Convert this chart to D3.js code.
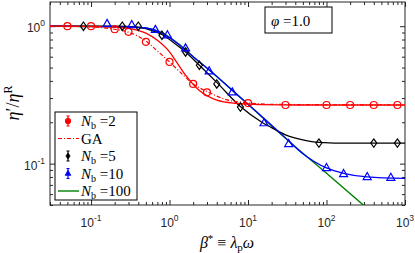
<!DOCTYPE html>
<html>
<head>
<script src="https://d3js.org/d3.v7.min.js"></script>
<style>
body { margin: 0; background: white; }
.tick text { font-family: "Liberation Sans", Arial, sans-serif; }
</style>
</head>
<body>
<script>
// data
var nb2X = [0.05, 0.1, 0.2, 0.3, 0.5, 1, 2, 3, 10, 30, 100, 200, 400, 800];
var nb2Y = [1.0, 1.0, 0.95, 0.91, 0.77, 0.55, 0.38, 0.33, 0.276, 0.267, 0.267, 0.267, 0.267, 0.267];

var fit2X = [0.03, 0.1, 0.2, 0.3, 0.5, 0.7, 1, 1.2, 1.6, 2.4, 4, 7, 15, 40, 1000];
var fit2Y = [1.0, 0.997, 0.985, 0.965, 0.89, 0.79, 0.65, 0.56, 0.44, 0.34, 0.29, 0.275, 0.269, 0.267, 0.267];

var gaX = [0.03, 0.1, 0.15, 0.2, 0.3, 0.5, 0.7, 1, 1.5, 2, 3, 5, 10, 20, 1000];
var gaY = [1.0, 0.99, 0.97, 0.95, 0.905, 0.78, 0.66, 0.55, 0.44, 0.38, 0.335, 0.295, 0.277, 0.27, 0.267];

var nb5X = [0.08, 0.25, 0.4, 0.8, 1.6, 2.4, 4, 8, 80, 400, 800];
var nb5Y = [1.0, 1.0, 1.0, 0.86, 0.65, 0.52, 0.38, 0.258, 0.141, 0.141, 0.141];

var fit5X = [0.03, 0.2, 0.4, 0.6, 0.8, 1.2, 1.6, 2.4, 4, 8, 15, 20, 30, 50, 80, 200, 1000];
var fit5Y = [1.0, 1.0, 0.98, 0.93, 0.87, 0.74, 0.65, 0.52, 0.39, 0.26, 0.2, 0.183, 0.162, 0.149, 0.143, 0.141, 0.141];

var nb10X = [0.16, 0.33, 0.66, 0.94, 1.6, 3.2, 6.3, 16, 33, 100, 165, 330, 660];
var nb10Y = [1.04, 1.02, 0.94, 0.86, 0.69, 0.47, 0.33, 0.197, 0.139, 0.093, 0.084, 0.080, 0.079];

var fit10X = [0.03, 0.3, 0.5, 0.8, 1.3, 2, 3.5, 6, 10, 20, 30, 50, 100, 165, 330, 1000];
var fit10Y = [1.0, 0.99, 0.97, 0.89, 0.74, 0.6, 0.46, 0.35, 0.27, 0.19, 0.154, 0.118, 0.093, 0.085, 0.080, 0.078];

var fit100X = [0.03, 0.3, 0.5, 0.8, 1.3, 2, 3.5, 6, 10, 20, 50, 100, 320];
var fit100Y = [1.0, 0.99, 0.97, 0.895, 0.745, 0.6, 0.46, 0.35, 0.27, 0.188, 0.119, 0.085, 0.048];

var xTickExp = [-1, 0, 1, 2, 3];
var yTickExp = [-1, 0];
var legendNb = ["2", null, "5", "10", "100"];

var W = 415, H = 253;
var L = 50, R = 405, T = 2, B = 205;
var ink = "#262626";

var svg = d3.select("body").append("svg")
  .attr("width", W)
  .attr("height", H);

var x = d3.scaleLog().domain([0.03, 1000]).range([L, R]);
var y = d3.scaleLog().domain([0.05, 1.5]).range([B, T]);

svg.append("clipPath").attr("id", "clip")
  .append("rect").attr("x", L).attr("y", T).attr("width", R - L).attr("height", B - T);

// ticks, inward on all four sides
function isMajor(d) { return Math.abs(Math.log10(d) - Math.round(Math.log10(d))) < 1e-6; }

function addTicks(axis, scale, tr) {
  var g = svg.append("g").attr("transform", tr).call(axis.tickFormat(""));
  g.select(".domain").remove();
  g.selectAll(".tick line")
    .attr("stroke", ink)
    .each(function(d) {
      var el = d3.select(this);
      var len = isMajor(d) ? 5 : 3;
      if (el.attr("x2") !== null && +el.attr("x2") !== 0) el.attr("x2", +el.attr("x2") > 0 ? len : -len);
      if (el.attr("y2") !== null && +el.attr("y2") !== 0) el.attr("y2", +el.attr("y2") > 0 ? len : -len);
    });
}
var xt = x.ticks(), yt = y.ticks();
addTicks(d3.axisBottom(x).tickValues(xt).tickSize(-5), x, "translate(0," + B + ")");
addTicks(d3.axisTop(x).tickValues(xt).tickSize(-5), x, "translate(0," + T + ")");
addTicks(d3.axisLeft(y).tickValues(yt).tickSize(-5), y, "translate(" + L + ",0)");
addTicks(d3.axisRight(y).tickValues(yt).tickSize(-5), y, "translate(" + R + ",0)");

// tick labels 10^k
var sans = "'Liberation Sans', Arial, sans-serif";
xTickExp.forEach(function(e) {
  var t = svg.append("text")
    .attr("x", x(Math.pow(10, e)))
    .attr("y", 227)
    .attr("text-anchor", "middle")
    .attr("font-family", sans)
    .attr("font-size", 12)
    .attr("fill", ink);
  t.append("tspan").text("10");
  t.append("tspan").attr("dy", -6).attr("font-size", 8.5).text(e);
});
yTickExp.forEach(function(e) {
  var t = svg.append("text")
    .attr("x", 45)
    .attr("y", y(Math.pow(10, e)) + 6)
    .attr("text-anchor", "end")
    .attr("font-family", sans)
    .attr("font-size", 12)
    .attr("fill", ink);
  t.append("tspan").text("10");
  t.append("tspan").attr("dy", -6).attr("font-size", 8.5).text(e);
});

// frame
svg.append("rect")
  .attr("x", L).attr("y", T)
  .attr("width", R - L).attr("height", B - T)
  .attr("fill", "none")
  .attr("stroke", ink)
  .attr("stroke-width", 1);

var plot = svg.append("g").attr("clip-path", "url(#clip)");

function pts(xs, ys) { return xs.map(function(v, i) { return [v, ys[i]]; }); }

var line = d3.line()
  .x(function(d) { return x(d[0]); })
  .y(function(d) { return y(d[1]); })
  .curve(d3.curveMonotoneX);

plot.append("path").datum(pts(fit100X, fit100Y))
  .attr("d", line).attr("fill", "none").attr("stroke", "#008000").attr("stroke-width", 1.4);
plot.append("path").datum(pts(fit5X, fit5Y))
  .attr("d", line).attr("fill", "none").attr("stroke", "black").attr("stroke-width", 1.3);
plot.append("path").datum(pts(fit10X, fit10Y))
  .attr("d", line).attr("fill", "none").attr("stroke", "blue").attr("stroke-width", 1.3);
plot.append("path").datum(pts(fit2X, fit2Y))
  .attr("d", line).attr("fill", "none").attr("stroke", "red").attr("stroke-width", 1.3);
plot.append("path").datum(pts(gaX, gaY))
  .attr("d", line).attr("fill", "none").attr("stroke", "red").attr("stroke-width", 1.2)
  .attr("stroke-dasharray", "4,2,1,2");

var diamond = "M0,-4.2L3,0L0,4.2L-3,0Z";
var triangle = "M0,-4.5L4,2.6L-4,2.6Z";

plot.selectAll(".c2").data(pts(nb2X, nb2Y)).enter().append("circle")
  .attr("cx", function(d) { return x(d[0]); })
  .attr("cy", function(d) { return y(d[1]); })
  .attr("r", 3.5)
  .attr("fill", "none").attr("stroke", "red").attr("stroke-width", 1.2);

plot.selectAll(".d5").data(pts(nb5X, nb5Y)).enter().append("path")
  .attr("transform", function(d) { return "translate(" + x(d[0]) + "," + y(d[1]) + ")"; })
  .attr("d", diamond)
  .attr("fill", "none").attr("stroke", "black").attr("stroke-width", 1.2);

plot.selectAll(".t10").data(pts(nb10X, nb10Y)).enter().append("path")
  .attr("transform", function(d) { return "translate(" + x(d[0]) + "," + y(d[1]) + ")"; })
  .attr("d", triangle)
  .attr("fill", "none").attr("stroke", "blue").attr("stroke-width", 1.2);

// annotation box
svg.append("rect")
  .attr("x", 265).attr("y", 7).attr("width", 67).attr("height", 26)
  .attr("fill", "white").attr("stroke", "black").attr("stroke-width", 1);
var phi = svg.append("text")
  .attr("x", 271).attr("y", 26)
  .attr("font-family", "'Liberation Serif', serif")
  .attr("font-size", 15);
phi.append("tspan").attr("font-style", "italic").text("\u03c6");
phi.append("tspan").text(" =1.0");

// legend
var lg = svg.append("g");
lg.append("rect")
  .attr("x", 55).attr("y", 112).attr("width", 82).attr("height", 88)
  .attr("fill", "white").attr("stroke", "black").attr("stroke-width", 1);

var serif = "'Liberation Serif', serif";
var rowY = [121, 138.5, 156, 173.5, 191];
var legColors = ["red", "red", "black", "blue", "#008000"];

legendNb.forEach(function(nb, i) {
  var cy = rowY[i];
  var c = legColors[i];
  if (i === 1) {
    lg.append("line").attr("x1", 58).attr("x2", 79).attr("y1", cy).attr("y2", cy)
      .attr("stroke", c).attr("stroke-width", 1.2).attr("stroke-dasharray", "4,2,1,2");
  } else if (i === 4) {
    lg.append("line").attr("x1", 58).attr("x2", 79).attr("y1", cy).attr("y2", cy)
      .attr("stroke", c).attr("stroke-width", 1.4);
  } else {
    lg.append("line").attr("x1", 68).attr("x2", 68).attr("y1", cy - 5).attr("y2", cy + 5)
      .attr("stroke", c).attr("stroke-width", 1.2);
    lg.append("line").attr("x1", 66.5).attr("x2", 69.5).attr("y1", cy - 5).attr("y2", cy - 5)
      .attr("stroke", c).attr("stroke-width", 1);
    lg.append("line").attr("x1", 66.5).attr("x2", 69.5).attr("y1", cy + 5).attr("y2", cy + 5)
      .attr("stroke", c).attr("stroke-width", 1);
    var m;
    if (i === 0) m = lg.append("circle").attr("cx", 68).attr("cy", cy).attr("r", 2.5);
    else if (i === 2) m = lg.append("path").attr("transform", "translate(68," + cy + ") scale(0.7)").attr("d", diamond);
    else m = lg.append("path").attr("transform", "translate(68," + cy + ") scale(0.7)").attr("d", triangle);
    m.attr("fill", c).attr("stroke", c).attr("stroke-width", 1.2);
  }
  var t = lg.append("text")
    .attr("x", 81).attr("y", cy + 5)
    .attr("font-family", serif)
    .attr("font-size", 15);
  if (nb === null) {
    t.text("GA");
  } else {
    t.append("tspan").attr("font-style", "italic").text("N");
    t.append("tspan").attr("dy", 3).attr("font-size", 10).text("b");
    t.append("tspan").attr("dy", -3).text(" =" + nb);
  }
});

// axis titles
var xl = svg.append("text")
  .attr("x", 227).attr("y", 248)
  .attr("text-anchor", "middle")
  .attr("font-family", serif)
  .attr("font-size", 16);
xl.append("tspan").attr("font-style", "italic").text("\u03b2");
xl.append("tspan").attr("dy", -6).attr("font-size", 11).text("*");
xl.append("tspan").attr("dy", 6).text(" \u2261 ");
xl.append("tspan").attr("font-style", "italic").text("\u03bb");
xl.append("tspan").attr("dy", 3).attr("font-size", 11).text("p");
xl.append("tspan").attr("dy", -3).attr("font-style", "italic").text("\u03c9");

var yl = svg.append("text")
  .attr("transform", "translate(19,103) rotate(-90)")
  .attr("text-anchor", "middle")
  .attr("font-family", serif)
  .attr("font-size", 18);
yl.append("tspan").attr("font-style", "italic").text("\u03b7");
yl.append("tspan").text("\u2032/");
yl.append("tspan").attr("font-style", "italic").text("\u03b7");
yl.append("tspan").attr("dy", -7).attr("font-size", 12).text("R");
</script>
</body>
</html>
